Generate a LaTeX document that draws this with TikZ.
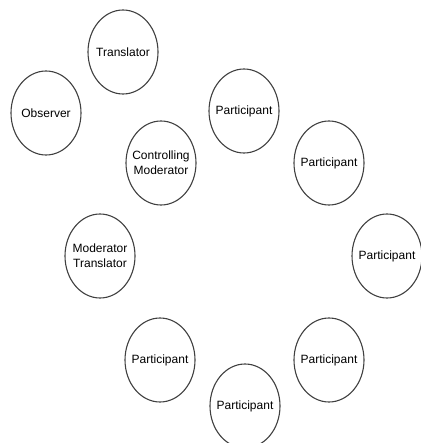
\documentclass[tikz,border=0pt]{standalone}
\usepackage{fontspec}
\setmainfont{Liberation Sans}
\tikzset{
  ring/.style={draw=black!75,line width=1.1pt},
  seat/.style={align=center,inner sep=0pt,
    append after command={\pgfextra{\draw[ring] (\tikzlastnode.center) ellipse (35 and 42);}}}
}
\begin{document}
\begin{tikzpicture}[x=1pt,y=-1pt,font=\fontsize{12}{15}\selectfont]
  \useasboundingbox (0,0) rectangle (420,443);
  \node[seat] (trans) at (123,52) {Translator};
  \node[seat] (obs) at (46,113) {Observer};
  \node[seat] (ctrl) at (161,163) {Controlling\\Moderator};
  \node[seat] (modtrans) at (100,256) {Moderator\\Translator};
  \foreach \n/\x/\y in {1/244/111,2/329/163,3/387/256,4/329/360,5/245/406,6/160/360}{
    \node[seat] (part\n) at (\x,\y) {Participant};
  }
\end{tikzpicture}
\end{document}
